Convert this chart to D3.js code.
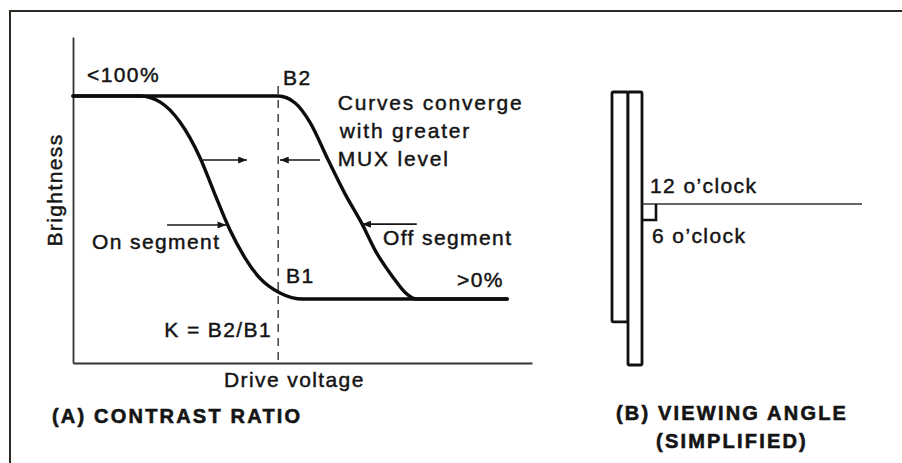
<!DOCTYPE html>
<html><head><meta charset="utf-8">
<script src="https://cdn.jsdelivr.net/npm/d3@7"></script>
<style>
body{margin:0;background:#fff}
text{font-family:"Liberation Sans",Arial,Helvetica,sans-serif;fill:#141414}
</style>
</head><body>
<svg id="c" width="902" height="463"></svg>
<script>
// ---- data (panel A: drive voltage vs brightness, arbitrary units) ----
const onVoltage      = [0, 14.6, 19.0, 23.3, 27.7, 30.9, 34.2, 37.5, 40.7, 45.1, 50.1, 94.6];
const onBrightness   = [100, 100, 97.0, 87.2, 69.5, 51.7, 34.0, 20.2, 10.3, 3.0, 0, 0];
const offVoltage     = [0, 44.7, 48.4, 51.6, 55.6, 59.3, 63.0, 65.8, 69.7, 72.3, 74.9, 94.6];
const offBrightness  = [100, 100, 96.6, 87.2, 68.5, 51.7, 36.9, 24.1, 10.8, 3.4, 0, 0];
const thresholdVoltage = 44.7;       // B1/B2 dashed line
const convergeFrom   = [28.3, 53.8]; // arrows showing curves converging
const convergeTo     = [37.9, 45.1];
const convergeLevel  = 68.5;
const segmentFrom    = [20.5, 74.9]; // "On segment" / "Off segment" pointers
const segmentTo      = [33.4, 63.0];
const segmentLevel   = [36.5, 36.9];
const convergeText   = ["Curves converge", "with greater", "MUX level"];
// ---- data (panel B: simplified viewing angle sketch, arbitrary units) ----
const frontGlass = [0, 6.4, 0, 84.2];   // x0, x1, y0, y1
const backGlass  = [6.4, 12.0, 0, 100];
const viewLine   = [12.0, 100, 41.0];   // x0, x1, y
const rightAngle = [12.0, 17.6, 41.0, 46.9];

const svg = d3.select("#c");
const ink = "#161616";

// frame
svg.append("path").attr("d", "M10,463 L10,11 L902,11").attr("fill", "none")
  .attr("stroke", "#2a2a22").attr("stroke-width", 2);

// markers
const defs = svg.append("defs");
defs.append("marker").attr("id", "ah").attr("viewBox", "0 0 10 8")
  .attr("refX", 10).attr("refY", 4).attr("markerWidth", 11).attr("markerHeight", 7)
  .attr("markerUnits", "userSpaceOnUse").attr("orient", "auto")
  .append("path").attr("d", "M0,0 L10,4 L0,8 Z").attr("fill", ink);

// ---- panel A scales ----
const x = d3.scaleLinear().domain([0, 100]).range([73, 532]);
const y = d3.scaleLinear().domain([-31.5, 129.1]).range([363, 37]);

const gA = svg.append("g");
gA.append("g").attr("transform", `translate(0,${y(-31.5)})`)
  .call(d3.axisBottom(x).tickValues([]).tickSizeOuter(0))
  .call(g => g.select(".domain").attr("stroke", "#333").attr("stroke-width", 1.8));
gA.append("g").attr("transform", `translate(${x(0)},0)`)
  .call(d3.axisLeft(y).tickValues([]).tickSizeOuter(0))
  .call(g => g.select(".domain").attr("stroke", "#333").attr("stroke-width", 1.8));

// dashed threshold
gA.append("line").attr("x1", x(thresholdVoltage)).attr("x2", x(thresholdVoltage))
  .attr("y1", y(105)).attr("y2", y(-33)).attr("stroke", "#333").attr("stroke-width", 1.4)
  .attr("stroke-dasharray", "8,6");

const line = d3.line().x(d => x(d[0])).y(d => y(d[1])).curve(d3.curveMonotoneX);
const onPts = onVoltage.map((v, i) => [v, onBrightness[i]]);
const offPts = offVoltage.map((v, i) => [v, offBrightness[i]]);
[onPts, offPts].forEach(p => gA.append("path").attr("d", line(p)).attr("fill", "none")
  .attr("stroke", "#0d0d0d").attr("stroke-width", 3.4).attr("stroke-linecap", "round"));

// arrows
convergeFrom.forEach((f, i) => gA.append("line")
  .attr("x1", x(f)).attr("x2", x(convergeTo[i])).attr("y1", y(convergeLevel)).attr("y2", y(convergeLevel))
  .attr("stroke", ink).attr("stroke-width", 1.6).attr("marker-end", "url(#ah)"));
segmentFrom.forEach((f, i) => gA.append("line")
  .attr("x1", x(f)).attr("x2", x(segmentTo[i])).attr("y1", y(segmentLevel[i])).attr("y2", y(segmentLevel[i]))
  .attr("stroke", ink).attr("stroke-width", 1.6).attr("marker-end", "url(#ah)"));

// labels
function label(g, t, px, py, opts = {}) {
  const el = g.append("text").attr("x", px).attr("y", py).text(t)
    .attr("font-size", opts.size || 21).attr("letter-spacing", opts.ls ?? 1.4)
    .attr("font-weight", opts.bold ? "bold" : "normal")
    .attr("stroke", "#141414").attr("stroke-width", opts.bold ? 0.6 : 0.45);
  if (opts.anchor) el.attr("text-anchor", opts.anchor);
  return el;
}
label(gA, "<100%", x(3.05), 82);
label(gA, "B2", x(45.75), 85);
convergeText.forEach((t, i) => label(gA, t, x(57.7) + (i === 1 ? 2 : 0), 110 + i * 28, {ls: 1.8}));
label(gA, "On segment", 92, 249);
label(gA, "Off segment", 383, 245);
label(gA, "B1", 286, 283);
label(gA, ">0%", 457, 287);
label(gA, "K = B2/B1", 272, 337, {anchor: "end"});
label(gA, "Drive voltage", 224, 387);
label(gA, "Brightness", 0, 0, {anchor: "middle"}).attr("transform", "translate(62,190) rotate(-90)");
label(gA, "(A) CONTRAST RATIO", 52, 423, {bold: true, ls: 2.2, size: 20});

// ---- panel B ----
const xb = d3.scaleLinear().domain([0, 100]).range([612, 862]);
const yb = d3.scaleLinear().domain([0, 100]).range([92, 365]);
const gB = svg.append("g");
[frontGlass, backGlass].forEach(r => gB.append("rect")
  .attr("x", xb(r[0])).attr("y", yb(r[2])).attr("width", xb(r[1]) - xb(r[0])).attr("height", yb(r[3]) - yb(r[2]))
  .attr("fill", "#fff").attr("stroke", "#111").attr("stroke-width", 2.8).attr("rx", 1.5));
gB.append("line").attr("x1", xb(viewLine[0])).attr("x2", xb(viewLine[1]))
  .attr("y1", yb(viewLine[2])).attr("y2", yb(viewLine[2])).attr("stroke", "#333").attr("stroke-width", 1.6);
gB.append("path").attr("d", `M${xb(rightAngle[1])},${yb(rightAngle[2])} L${xb(rightAngle[1])},${yb(rightAngle[3])} L${xb(rightAngle[0])},${yb(rightAngle[3])}`)
  .attr("fill", "none").attr("stroke", "#111").attr("stroke-width", 2.6);
label(gB, "12 o\u2019clock", 650, 193);
label(gB, "6 o\u2019clock", 652, 243);
label(gB, "(B) VIEWING ANGLE", 732, 420, {bold: true, ls: 2.2, size: 20, anchor: "middle"});
label(gB, "(SIMPLIFIED)", 732, 448, {bold: true, ls: 2.2, size: 20, anchor: "middle"});
</script>
</body></html>
